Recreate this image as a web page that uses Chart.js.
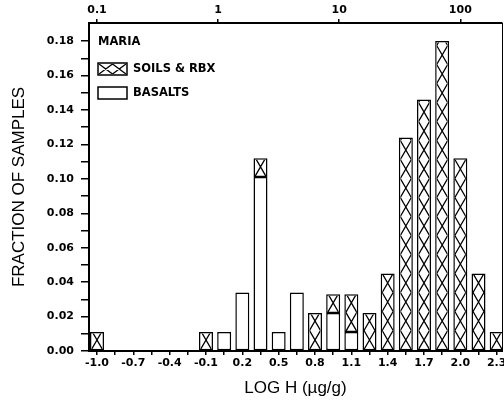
<!DOCTYPE html>
<html>
<head>
<meta charset="utf-8">
<script src="https://cdn.jsdelivr.net/npm/chart.js@4/dist/chart.umd.min.js"></script>
<style>
  html, body { margin: 0; padding: 0; background: #fff; }
  #wrap { width: 504px; height: 406px; }
</style>
</head>
<body>
<div id="wrap"><canvas id="hist-chart" width="504" height="406"></canvas></div>
<script>
/* ---- Data ---- */
var binCenters = [-1.0, -0.85, -0.7, -0.55, -0.4, -0.25, -0.1, 0.05, 0.2, 0.35, 0.5, 0.65,
                  0.8, 0.95, 1.1, 1.25, 1.4, 1.55, 1.7, 1.85, 2.0, 2.15, 2.3];
var basalts = [null, null, null, null, null, null, null, 0.011, 0.034, 0.101, 0.011, 0.034,
               null, 0.022, 0.011, null, null, null, null, null, null, null, null];
var soils = [0.011, null, null, null, null, null, 0.011, null, null, 0.011, null, null,
             0.022, 0.011, 0.022, 0.022, 0.045, 0.124, 0.146, 0.180, 0.112, 0.045, 0.011];
var xLabelValues = [-1.0, -0.7, -0.4, -0.1, 0.2, 0.5, 0.8, 1.1, 1.4, 1.7, 2.0, 2.3];
var yTicks = [0, 0.01, 0.02, 0.03, 0.04, 0.05, 0.06, 0.07, 0.08, 0.09, 0.10,
              0.11, 0.12, 0.13, 0.14, 0.15, 0.16, 0.17, 0.18];
var topTicks = [0.1, 1, 10, 100];
var topLabels = ['0.1', '1', '10', '100'];
var seriesNames = ['BASALTS', 'SOILS & RBX'];
var panelName = 'MARIA';

(function() {
  var xMin = -1.066, xMax = 2.344;
  var tickFont = { family: "'DejaVu Sans', sans-serif", weight: 'bold', size: 11 };
  var titleFont = { family: "'Liberation Sans', Arial, sans-serif", size: 17 };
  var smallFont = "bold 11.5px 'DejaVu Sans', sans-serif";

  /* ---- cross hatch: one X per cell ---- */
  function drawHatch(ctx, left, top, right, bottom, cellW, cellH) {
    ctx.save();
    ctx.beginPath();
    ctx.rect(left, top, right - left, bottom - top);
    ctx.clip();
    ctx.beginPath();
    var cols = Math.max(1, Math.round((right - left) / cellW));
    var cw = (right - left) / cols;
    for (var c = 0; c < cols; c++) {
      var x0 = left + c * cw, x1 = x0 + cw;
      for (var y = bottom; y > top - cellH; y -= cellH) {
        ctx.moveTo(x0, y); ctx.lineTo(x1, y - cellH);
        ctx.moveTo(x1, y); ctx.lineTo(x0, y - cellH);
      }
    }
    ctx.lineWidth = 1.3;
    ctx.strokeStyle = '#000';
    ctx.stroke();
    ctx.restore();
  }

  var hatchPlugin = {
    id: 'hatch',
    afterDatasetsDraw: function(chart) {
      var ctx = chart.ctx;
      var meta = chart.getDatasetMeta(1);
      var bw = 1.5;
      meta.data.forEach(function(el, i) {
        if (soils[i] === null) return;
        var p = el.getProps(['x', 'y', 'base', 'width'], true);
        var top = Math.min(p.y, p.base), bottom = Math.max(p.y, p.base);
        drawHatch(ctx, p.x - p.width / 2 + bw, top + bw, p.x + p.width / 2 - bw, bottom - bw / 2,
                  p.width - 2 * bw, 19);
      });
    }
  };

  /* ---- in-plot legend ---- */
  var legendPlugin = {
    id: 'boxLegend',
    afterDraw: function(chart) {
      var ctx = chart.ctx;
      var a = chart.chartArea;
      var x = a.left + 9;
      ctx.save();
      ctx.fillStyle = '#000';
      ctx.font = smallFont;
      ctx.textBaseline = 'middle';
      ctx.fillText(panelName, x, a.top + 19);

      var rows = [{ name: seriesNames[1], y: a.top + 40, hatch: true },
                  { name: seriesNames[0], y: a.top + 64, hatch: false }];
      rows.forEach(function(r) {
        ctx.fillStyle = '#fff';
        ctx.fillRect(x, r.y, 29, 12);
        if (r.hatch) drawHatch(ctx, x + 1, r.y + 1, x + 28, r.y + 11, 13.5, 10);
        ctx.lineWidth = 1.5;
        ctx.strokeStyle = '#000';
        ctx.strokeRect(x, r.y, 29, 12);
        ctx.fillStyle = '#000';
        ctx.fillText(r.name, x + 35, r.y + 6.5);
      });
      ctx.restore();
    }
  };

  function toPoints(arr) {
    return binCenters.map(function(c, i) { return { x: c, y: arr[i] }; });
  }

  // keep label overhang from shrinking the plot box
  function noSidePadding(scale) {
    scale.paddingLeft = 0;
    scale.paddingRight = 0;
  }

  var ctx = document.getElementById('hist-chart');
  new Chart(ctx, {
    type: 'bar',
    data: {
      datasets: [{
        label: seriesNames[0],
        data: toPoints(basalts),
        backgroundColor: '#fff',
        borderColor: '#000',
        borderWidth: 1.5,
        borderSkipped: false,
        categoryPercentage: 1,
        barPercentage: 0.77
      }, {
        label: seriesNames[1],
        data: toPoints(soils),
        backgroundColor: '#fff',
        borderColor: '#000',
        borderWidth: 1.5,
        borderSkipped: false,
        categoryPercentage: 1,
        barPercentage: 0.77
      }]
    },
    options: {
      responsive: false,
      animation: false,
      layout: { padding: 0 },
      plugins: {
        legend: { display: false },
        tooltip: { enabled: false }
      },
      scales: {
        x: {
          type: 'linear',
          position: 'bottom',
          min: xMin,
          max: xMax,
          offset: false,
          stacked: true,
          afterBuildTicks: function(scale) {
            scale.ticks = binCenters.map(function(v) { return { value: v }; });
          },
          afterFit: function(scale) { scale.height = 55; noSidePadding(scale); },
          ticks: {
            autoSkip: false,
            maxRotation: 0,
            color: '#000',
            font: tickFont,
            padding: 2,
            callback: function(value) {
              for (var i = 0; i < xLabelValues.length; i++) {
                if (Math.abs(xLabelValues[i] - value) < 1e-6) return xLabelValues[i].toFixed(1);
              }
              return '';
            }
          },
          grid: { drawOnChartArea: false, offset: false, tickLength: 4, color: '#000', lineWidth: 1.5 },
          border: { display: true, color: '#000', width: 2 },
          title: {
            display: true, text: 'LOG H (\u00b5g/g)',
            color: '#000', font: titleFont,
            padding: { top: 0, bottom: 7 }
          }
        },
        xTop: {
          type: 'logarithmic',
          position: 'top',
          min: Math.pow(10, xMin),
          max: Math.pow(10, xMax),
          offset: false,
          afterBuildTicks: function(scale) {
            scale.ticks = topTicks.map(function(v) { return { value: v }; });
          },
          afterFit: function(scale) { scale.height = 23; noSidePadding(scale); },
          ticks: {
            autoSkip: false,
            maxRotation: 0,
            color: '#000',
            font: tickFont,
            padding: 2,
            callback: function(value, index) { return topLabels[index]; }
          },
          grid: { drawOnChartArea: false, offset: false, tickLength: 4, color: '#000', lineWidth: 1.5 },
          border: { display: true, color: '#000', width: 2 }
        },
        y: {
          position: 'left',
          stacked: true,
          min: 0,
          max: 0.1905,
          afterBuildTicks: function(scale) {
            scale.ticks = yTicks.map(function(v) { return { value: v }; });
          },
          afterFit: function(scale) { scale.width = 89; },
          ticks: {
            autoSkip: false,
            color: '#000',
            font: tickFont,
            padding: 7,
            callback: function(value, index) {
              return index % 2 === 0 ? yTicks[index].toFixed(2) : '';
            }
          },
          grid: { drawOnChartArea: false, tickLength: 8, color: '#000', lineWidth: 1.5 },
          border: { display: true, color: '#000', width: 2 },
          title: {
            display: true, text: 'FRACTION OF SAMPLES',
            color: '#000', font: titleFont,
            padding: { top: 9, bottom: 0 }
          }
        },
        yRight: {
          position: 'right',
          min: 0,
          max: 0.1905,
          afterFit: function(scale) { scale.width = 2; },
          ticks: { display: false },
          grid: { drawOnChartArea: false, drawTicks: false },
          border: { display: true, color: '#000', width: 1 }
        }
      }
    },
    plugins: [hatchPlugin, legendPlugin]
  });
})();
</script>
</body>
</html>
